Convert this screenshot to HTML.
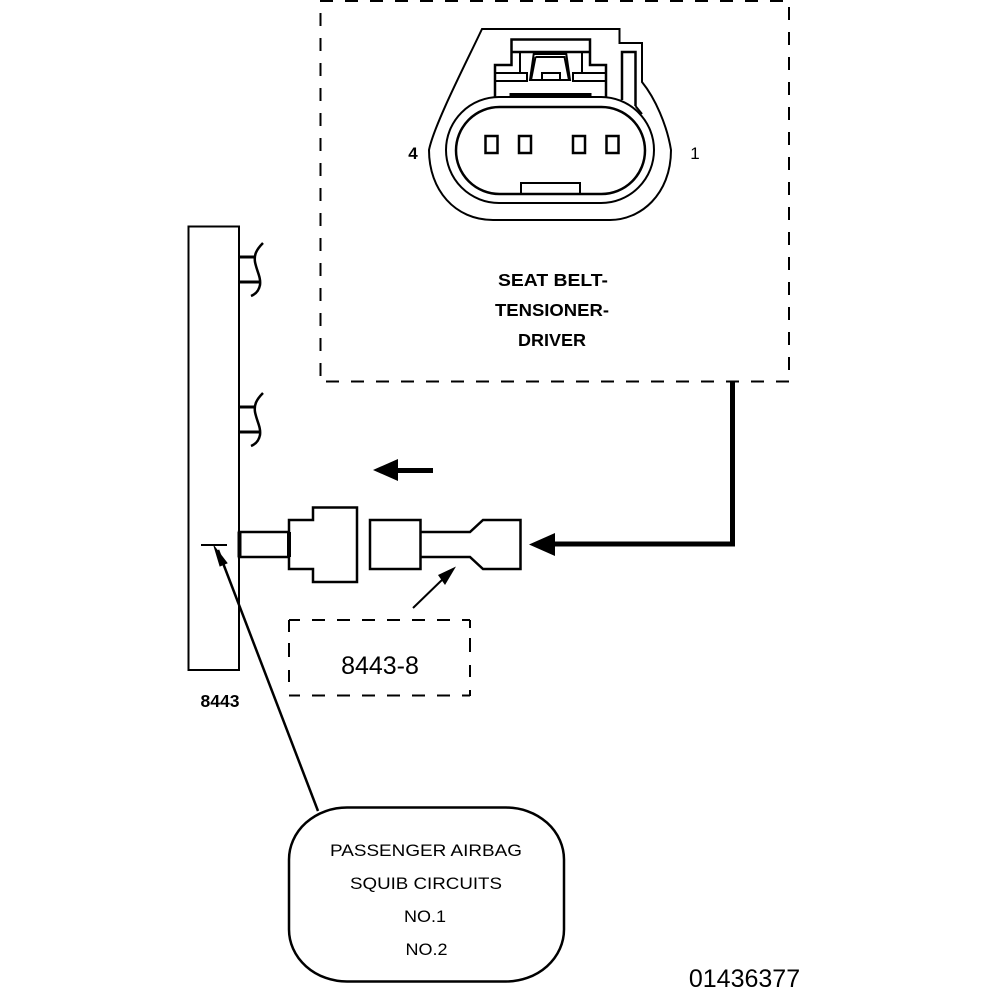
<!DOCTYPE html>
<html><head><meta charset="utf-8"><style>
html,body{margin:0;padding:0;background:#fff}
svg{display:block}
text{font-family:"Liberation Sans",sans-serif;fill:#000;stroke:none;text-anchor:middle}
.b{font-weight:bold}
</style></head><body>
<svg width="1008" height="1000" viewBox="0 0 1008 1000" fill="none" stroke="#000" stroke-width="2">
<!-- dashed box -->
<path d="M320 1H785" stroke-dasharray="13 12" stroke-width="2"/>
<path d="M320.500 13V377" stroke-dasharray="13 12" stroke-width="2"/>
<path d="M789 7V370" stroke-dasharray="13 12" stroke-width="2"/>
<path d="M326 381.500H790" stroke-dasharray="13 12" stroke-width="2"/>
<!-- connector -->
<path d="M482 29H619.500V43H642V82C655 98 667 125 671 150C671 195 640 220 610 220H493C455 220 429 190 429 150C434 125 465 65 482 29Z"/>
<rect x="446" y="97" width="208" height="106" rx="53" ry="53"/>
<rect x="456" y="107" width="189" height="87" rx="43.500" ry="43.500" stroke-width="2.500"/>
<path d="M521 194V183H580V194"/>
<rect x="485.500" y="136" width="12" height="17" stroke-width="2.500"/>
<rect x="519" y="136" width="12" height="17" stroke-width="2.500"/>
<rect x="573" y="136" width="12" height="17" stroke-width="2.500"/>
<rect x="606.500" y="136" width="12" height="17" stroke-width="2.500"/>
<path d="M495 97V65H511.500V39.500H590V65H606V97" stroke-width="2.500"/>
<path d="M511.500 52H590" stroke-width="2.500"/>
<path d="M495 73H527V81H495M606 73H573V81H606M520 52V73M582 52V73" stroke-width="2"/>
<path d="M534 52L530 80H570L566 52M535.500 57H564.500L569 80M535.500 57L531 80M534 54H566M542 80V73H560V80" stroke-width="2"/>
<path d="M511 97V94.500H590V97" stroke-width="3"/>
<path d="M622 100V52H635.500V106" stroke-width="2.500"/>
<path d="M635.500 106L642 114"/>
<text x="413" y="159" font-size="17" class="b">4</text>
<text x="695" y="159" font-size="17">1</text>
<text x="553" y="286" font-size="17.500" class="b" textLength="110" lengthAdjust="spacingAndGlyphs">SEAT BELT-</text>
<text x="552" y="316" font-size="17.500" class="b" textLength="114" lengthAdjust="spacingAndGlyphs">TENSIONER-</text>
<text x="552" y="346" font-size="17.500" class="b" textLength="68" lengthAdjust="spacingAndGlyphs">DRIVER</text>
<!-- thick wire -->
<path d="M732.500 381V544H550" stroke-width="5"/>
<path d="M529 544.500L555 533V556Z" fill="#000" stroke="none"/>
<!-- module -->
<path d="M188.500 670V226.500H239V670H188.500Z"/>
<!-- stubs -->
<path d="M239 257H256" stroke-width="3"/><path d="M239 282H260" stroke-width="3"/>
<path d="M263 243C256 250 254 255 255 262C257 272 261 277 260 285C259 290 256 294 251 296" stroke-width="2.500"/>
<path d="M239 407H256" stroke-width="3"/><path d="M239 432H260" stroke-width="3"/>
<path d="M263 393C256 400 254 405 255 412C257 422 261 427 260 435C259 440 256 444 251 446" stroke-width="2.500"/>
<!-- arrow -->
<path d="M373 470L398 459V481Z" fill="#000" stroke="none"/>
<path d="M396 470.500H433" stroke-width="5"/>
<!-- plugs -->
<path d="M289 532H239V557H289" stroke-width="2.500"/>
<path d="M239.500 532V557" stroke-width="4"/>
<path d="M289 532V557" stroke-width="4"/>
<path d="M289 532V520H313V507.500H357V582H313V569H289V532" stroke-width="2.500"/>
<rect x="370" y="520" width="50.500" height="49" stroke-width="2.500"/>
<path d="M420 532H470L483 520H520.500V569H483L470 557H420" stroke-width="2.500"/>
<!-- pointer arrow -->
<path d="M413 608L445 577"/>
<path d="M456 566.500L445 585L438 575Z" fill="#000" stroke="none"/>
<!-- dashed 8443-8 -->
<path d="M289 620H470" stroke-dasharray="13 12" stroke-dashoffset="2"/>
<path d="M289 695.500H470" stroke-dasharray="13 12" stroke-dashoffset="2"/>
<path d="M289 620V632M289 643V657M289 670V682"/>
<path d="M470 620V628M470 638V652M470 665V677M470 690V696"/>
<text x="380" y="674" font-size="25">8443-8</text>
<text x="220" y="707" font-size="17.500" class="b">8443</text>
<!-- callout -->
<path d="M201 545H227"/>
<path d="M318 811L218 550" stroke-width="2.500"/>
<path d="M214 546L227 563L220 566Z" fill="#000" stroke="#000" stroke-width="1"/>
<rect x="289" y="807.500" width="275" height="174" rx="58" ry="52" stroke-width="2.500"/>
<text x="426" y="856" font-size="17" textLength="192" lengthAdjust="spacingAndGlyphs">PASSENGER AIRBAG</text>
<text x="426" y="889" font-size="17" textLength="152" lengthAdjust="spacingAndGlyphs">SQUIB CIRCUITS</text>
<text x="425" y="922" font-size="17" textLength="42" lengthAdjust="spacingAndGlyphs">NO.1</text>
<text x="426.500" y="955" font-size="17" textLength="42" lengthAdjust="spacingAndGlyphs">NO.2</text>
<text x="744.500" y="987" font-size="25">01436377</text>
</svg>
</body></html>
